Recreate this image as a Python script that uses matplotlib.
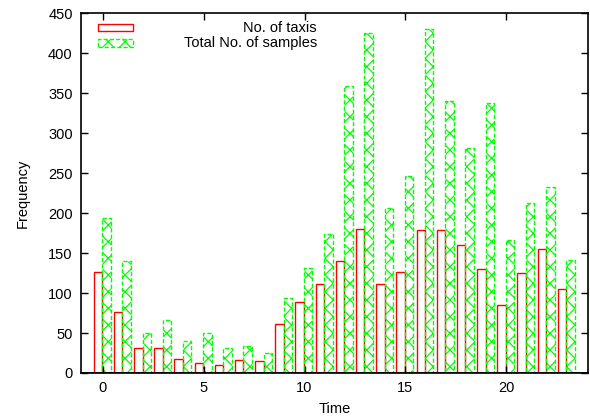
import numpy as np
from matplotlib import pyplot as plt
from matplotlib.patches import Rectangle

plt.rcParams['font.family'] = ['Liberation Sans', 'DejaVu Sans']
plt.rcParams['hatch.linewidth'] = 0.9

# Hour of day
hours = np.arange(24)
# No. of taxis per hour
taxis = [126, 76, 31, 31, 18, 12, 10, 16, 15, 61, 89, 111,
         140, 180, 112, 127, 179, 179, 160, 130, 85, 125, 155, 105]
# Total No. of samples per hour
samples = [194, 140, 50, 66, 40, 50, 31, 34, 25, 94, 132, 174,
           359, 425, 207, 247, 430, 340, 282, 338, 167, 213, 233, 142]
labels = ['No. of taxis', 'Total No. of samples']

red = '#ff0000'
green = '#00ff00'
width = 0.42
fs = 10.5

fig = plt.figure(figsize=(5.9, 4.19), dpi=100)
ax = fig.add_axes([0.1373, 0.1098, 0.8593, 0.858])

ax.bar(hours - 0.45, taxis, width=width, align='edge', facecolor='none',
       edgecolor=red, linewidth=1.0)
ax.bar(hours - 0.03, samples, width=width, align='edge', facecolor='none',
       edgecolor=green, linewidth=1.0, hatch='xx', linestyle=(0, (3, 1.5)))

ax.set_xlim(-1.08, 24.05)
ax.set_ylim(0, 450)
ax.set_xticks([0, 5, 10, 15, 20])
ax.set_yticks(np.arange(0, 451, 50))
ax.tick_params(direction='in', top=True, right=True, length=5, width=1,
               labelsize=fs, pad=6)
for s in ax.spines.values():
    s.set_linewidth(1.2)
ax.axhline(0, color='black', linewidth=1.2)

ax.set_xlabel('Time', fontsize=fs, labelpad=5)
ax.set_ylabel('Frequency', fontsize=fs, labelpad=13)

# key drawn gnuplot style: sample box left, text right-justified
ax.add_patch(Rectangle((0.034, 0.9505), 0.068, 0.0205, transform=ax.transAxes,
                       facecolor='none', edgecolor=red, linewidth=1.0))
ax.add_patch(Rectangle((0.034, 0.908), 0.068, 0.0205, transform=ax.transAxes,
                       facecolor='none', edgecolor=green, linewidth=1.0,
                       hatch='xx', linestyle=(0, (3, 1.5))))
ax.text(0.465, 0.9605, labels[0], transform=ax.transAxes, ha='right',
        va='center', fontsize=fs)
ax.text(0.465, 0.918, labels[1], transform=ax.transAxes, ha='right',
        va='center', fontsize=fs)

fig.savefig('out.png', dpi=100)
